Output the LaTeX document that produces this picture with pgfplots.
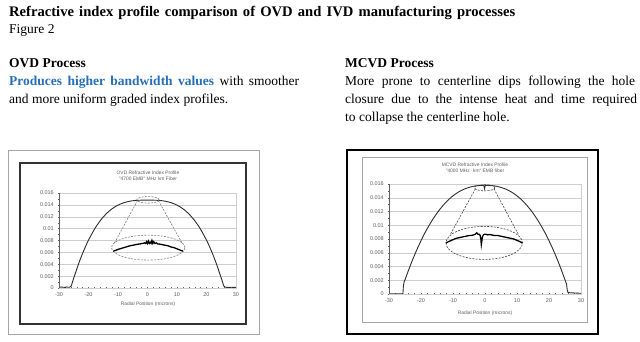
\documentclass[border=0pt]{standalone}
\usepackage{pgfplots}
\pgfplotsset{compat=1.18}
\usepackage{fontspec}
\setmainfont{Liberation Serif}
\newfontfamily\ax{Liberation Sans}
\definecolor{linkblue}{RGB}{38,110,182}
\definecolor{gridc}{RGB}{205,205,205}
\definecolor{tickc}{RGB}{95,95,95}
\definecolor{curvec}{RGB}{45,45,45}
\definecolor{ellc}{RGB}{120,120,120}

\pgfplotsset{excel/.style={
  scale only axis, xmin=-30, xmax=30, ymin=0, ymax=0.016,
  xtick={-30,-20,-10,0,10,20,30},
  xticklabels={-30,-20,-10,0,10,20,30},
  ytick={0,0.002,0.004,0.006,0.008,0.01,0.012,0.014,0.016},
  yticklabels={0,0.002,0.004,0.006,0.008,0.01,0.012,0.014,0.016},
  minor x tick num=4, minor y tick num=1,
  ymajorgrids, major grid style={gridc, line width=0.4pt},
  axis line style={gridc, line width=0.4pt},
  tick style={tickc, line width=0.3pt}, tick align=center,
  major tick length=2.4pt, minor tick length=1.8pt,
  xtick pos=bottom, ytick pos=left,
  ticklabel style={font=\ax\fontsize{5.5}{6}\selectfont, text=tickc},
  yticklabel style={xshift=-0.5pt},
  scaled y ticks=false, scaled x ticks=false,
}}
\tikzset{fdash/.style={dash pattern=on 2pt off 1.3pt, line width=0.6pt}}

\begin{document}
\begin{tikzpicture}[x=1pt,y=1pt]
\path[use as bounding box] (0,0) rectangle (640,342);

% header text
\node[anchor=base west, inner sep=0, font=\bfseries\fontsize{14.6}{17}\selectfont] at (9,325) {\makebox[506pt][s]{Refractive index profile comparison of OVD and IVD manufacturing processes}};
\node[anchor=base west, inner sep=0, font=\fontsize{13.5}{16}\selectfont] at (9,308) {Figure 2};
\node[anchor=base west, inner sep=0, font=\bfseries\fontsize{13.5}{16}\selectfont] at (9,274) {OVD Process};
\node[anchor=base west, inner sep=0, font=\fontsize{13.5}{16}\selectfont] at (9,256.5) {\makebox[290pt][s]{\textcolor{linkblue}{\bfseries Produces higher bandwidth values} with smoother}};
\node[anchor=base west, inner sep=0, font=\fontsize{13.5}{16}\selectfont] at (9,238.5) {and more uniform graded index profiles.};
\node[anchor=base west, inner sep=0, font=\bfseries\fontsize{13.5}{16}\selectfont] at (345,274) {MCVD Process};
\node[anchor=base west, inner sep=0, font=\fontsize{13.5}{16}\selectfont] at (345,256.5) {\makebox[290pt][s]{More prone to centerline dips following the hole}};
\node[anchor=base west, inner sep=0, font=\fontsize{13.5}{16}\selectfont] at (345,238.5) {\makebox[292pt][s]{closure due to the intense heat and time required}};
\node[anchor=base west, inner sep=0, font=\fontsize{13.5}{16}\selectfont] at (345,220.5) {to collapse the centerline hole.};

% frames
\draw[gray!70, line width=0.8pt] (8,192) rectangle (259,8);
\draw[black!80, line width=1.2pt] (20,179) rectangle (246,18);
\draw[black, line width=1.6pt] (347,192) rectangle (598,8);
\draw[gray!70, line width=0.8pt] (362,185) rectangle (587,20);

% chart titles and axis labels
\node[font=\ax\fontsize{4.9}{6}\selectfont, text=tickc, align=center] at (148,166) {OVD Refractive Index Profile\\"4700 EMB" MHz km Fiber};
\node[font=\ax\fontsize{4.9}{6}\selectfont, text=tickc] at (148,38) {Radial Position (microns)};
\node[font=\ax\fontsize{4.9}{6}\selectfont, text=tickc, align=center] at (475,174.5) {MCVD Refractive Index Profile\\"4000 MHz\,·\,km" EMB fiber};
\node[font=\ax\fontsize{4.9}{6}\selectfont, text=tickc] at (485,29) {Radial Position (microns)};

% ---------------- OVD ----------------
\begin{axis}[excel, at={(59pt,54pt)}, anchor=south west, width=177pt, height=95pt]
\addplot[curvec, line width=0.9pt, smooth, tension=0.4] coordinates {
(-30,0.00012) (-29,0.00015) (-28,0.0001) (-27.5,0.00018) (-27,0.00012) (-26.5,0.00012)
(-25.9,0.0003) (-25.5,0.0009) (-25,0.0017) (-24.5,0.0024) (-24,0.00316) (-23,0.00456)
(-22,0.00583) (-21,0.0070) (-20,0.00806) (-18,0.00989) (-16,0.01135) (-14,0.01249)
(-12,0.01335) (-10,0.01396) (-8,0.01437) (-6,0.01462) (-4,0.01475) (-2,0.01479)
(0,0.0148) (2,0.01479) (4,0.01475) (6,0.01462) (8,0.01437) (10,0.01396)
(12,0.01335) (14,0.01249) (16,0.01135) (18,0.00989) (20,0.00806) (21,0.0070)
(22,0.00583) (23,0.00456) (24,0.00316) (24.5,0.0024) (25,0.0017) (25.5,0.0009)
(25.9,0.0003) (26.5,0.00012) (27.5,0.0001) (28.5,0.00012) (30,0.0001)};
\draw[ellc, fdash] (axis cs:0.15,0.01485) ellipse [x radius=3.8, y radius=0.00055];
\draw[ellc, fdash] (axis cs:0.25,0.0068) ellipse [x radius=12.45, y radius=0.0021];
\draw[ellc, fdash] (axis cs:-3.4,0.0147) -- (axis cs:-11.4,0.0074);
\draw[ellc, fdash] (axis cs:3.7,0.0147) -- (axis cs:11.9,0.0074);
\addplot[black, line width=1.3pt] coordinates {
(-11.6,0.0062) (-11,0.0063) (-10,0.0065) (-9,0.00665) (-8,0.0068) (-7,0.00695)
(-6,0.0071) (-5,0.0072) (-4,0.0073) (-3.5,0.00735) (-3,0.0074) (-2.5,0.0074)
(-2,0.0075) (-1.5,0.0075) (-1,0.0076) (-0.6,0.0075) (-0.3,0.0078) (0,0.0075)
(0.3,0.0079) (0.6,0.0075) (0.9,0.0077) (1.2,0.0075) (1.5,0.0080) (1.8,0.0075)
(2.1,0.0078) (2.5,0.0075) (3,0.0076) (3.5,0.0074) (4,0.0074) (5,0.0073)
(6,0.0072) (7,0.0071) (8,0.0069) (9,0.0068) (10,0.0066) (11,0.0064) (12,0.0062)};
\draw[tickc, line width=0.5pt] (rel axis cs:0,1) -- (rel axis cs:0,0) -- (rel axis cs:1,0);
\end{axis}

% ---------------- MCVD ----------------
\begin{axis}[excel, at={(389pt,48pt)}, anchor=south west, width=192pt, height=110pt]
\addplot[curvec, line width=0.9pt] coordinates {
(-30,0.00003) (-26,0.00003) (-25.65,0.00004) (-25.5,0.0012) (-25.25,0.0018) (-25,0.00206)
(-24,0.00334) (-23,0.00455) (-22,0.00569) (-21,0.00675) (-20,0.00776) (-19,0.0087) (-18,0.00955)
(-17,0.01035) (-16,0.01109) (-15,0.01176) (-14,0.01238) (-13,0.01294) (-12,0.01344)
(-11,0.01389) (-10,0.01428) (-9,0.01462) (-8,0.01491) (-7,0.01515) (-6,0.01535)
(-5,0.0155) (-4,0.01563) (-3,0.01572) (-2,0.01577) (-1,0.01579) (-0.4,0.0158)
(-0.15,0.0153) (0.1,0.0158) (1,0.01579) (2,0.01577) (3,0.01572) (4,0.01563)
(5,0.0155) (6,0.01535) (7,0.01515) (8,0.01491) (9,0.01462) (10,0.01428)
(11,0.01389) (12,0.01344) (13,0.01294) (14,0.01238) (15,0.01176) (16,0.01109)
(17,0.01035) (18,0.00955) (19,0.0087) (20,0.00776) (21,0.00675) (22,0.00569)
(23,0.00455) (24,0.00334) (25,0.00206) (25.5,0.00139) (25.7,0.0006) (25.9,0.00025)
(26.5,0.00018) (28,0.00015) (30,0.0001)};
\draw[black!75, fdash] (axis cs:-0.1,0.01545) ellipse [x radius=3.2, y radius=0.00045];
\draw[black!75, fdash] (axis cs:-0.25,0.00743) ellipse [x radius=11.95, y radius=0.0024];
\draw[black!75, fdash] (axis cs:-3.0,0.0153) -- (axis cs:-10.9,0.0086);
\draw[black!75, fdash] (axis cs:2.8,0.0153) -- (axis cs:10.5,0.0086);
\addplot[black, line width=1.3pt] coordinates {
(-12.2,0.0074) (-11.5,0.0076) (-11,0.0077) (-10,0.0079) (-9,0.0081) (-8,0.0082)
(-7,0.0083) (-6,0.0084) (-5.5,0.00845) (-5,0.0085) (-4.5,0.0085) (-4,0.00855)
(-3.5,0.0086) (-3,0.0087) (-2.6,0.0089) (-2.2,0.0087) (-1.8,0.0087) (-1.5,0.0085)
(-1.3,0.0080) (-1.15,0.0072) (-1.0,0.0077) (-0.8,0.0083) (-0.5,0.0086) (-0.2,0.0087)
(0.3,0.0087) (0.8,0.0086) (1.3,0.00865) (2,0.0086) (2.5,0.00855) (3,0.0085)
(4,0.0085) (5,0.0084) (6,0.0083) (7,0.0082) (8,0.0081) (9,0.0080) (10,0.0078)
(11,0.0076) (11.7,0.0074)};
\draw[tickc, line width=0.5pt] (rel axis cs:0,1) -- (rel axis cs:0,0) -- (rel axis cs:1,0);
\end{axis}
\end{tikzpicture}
\end{document}
